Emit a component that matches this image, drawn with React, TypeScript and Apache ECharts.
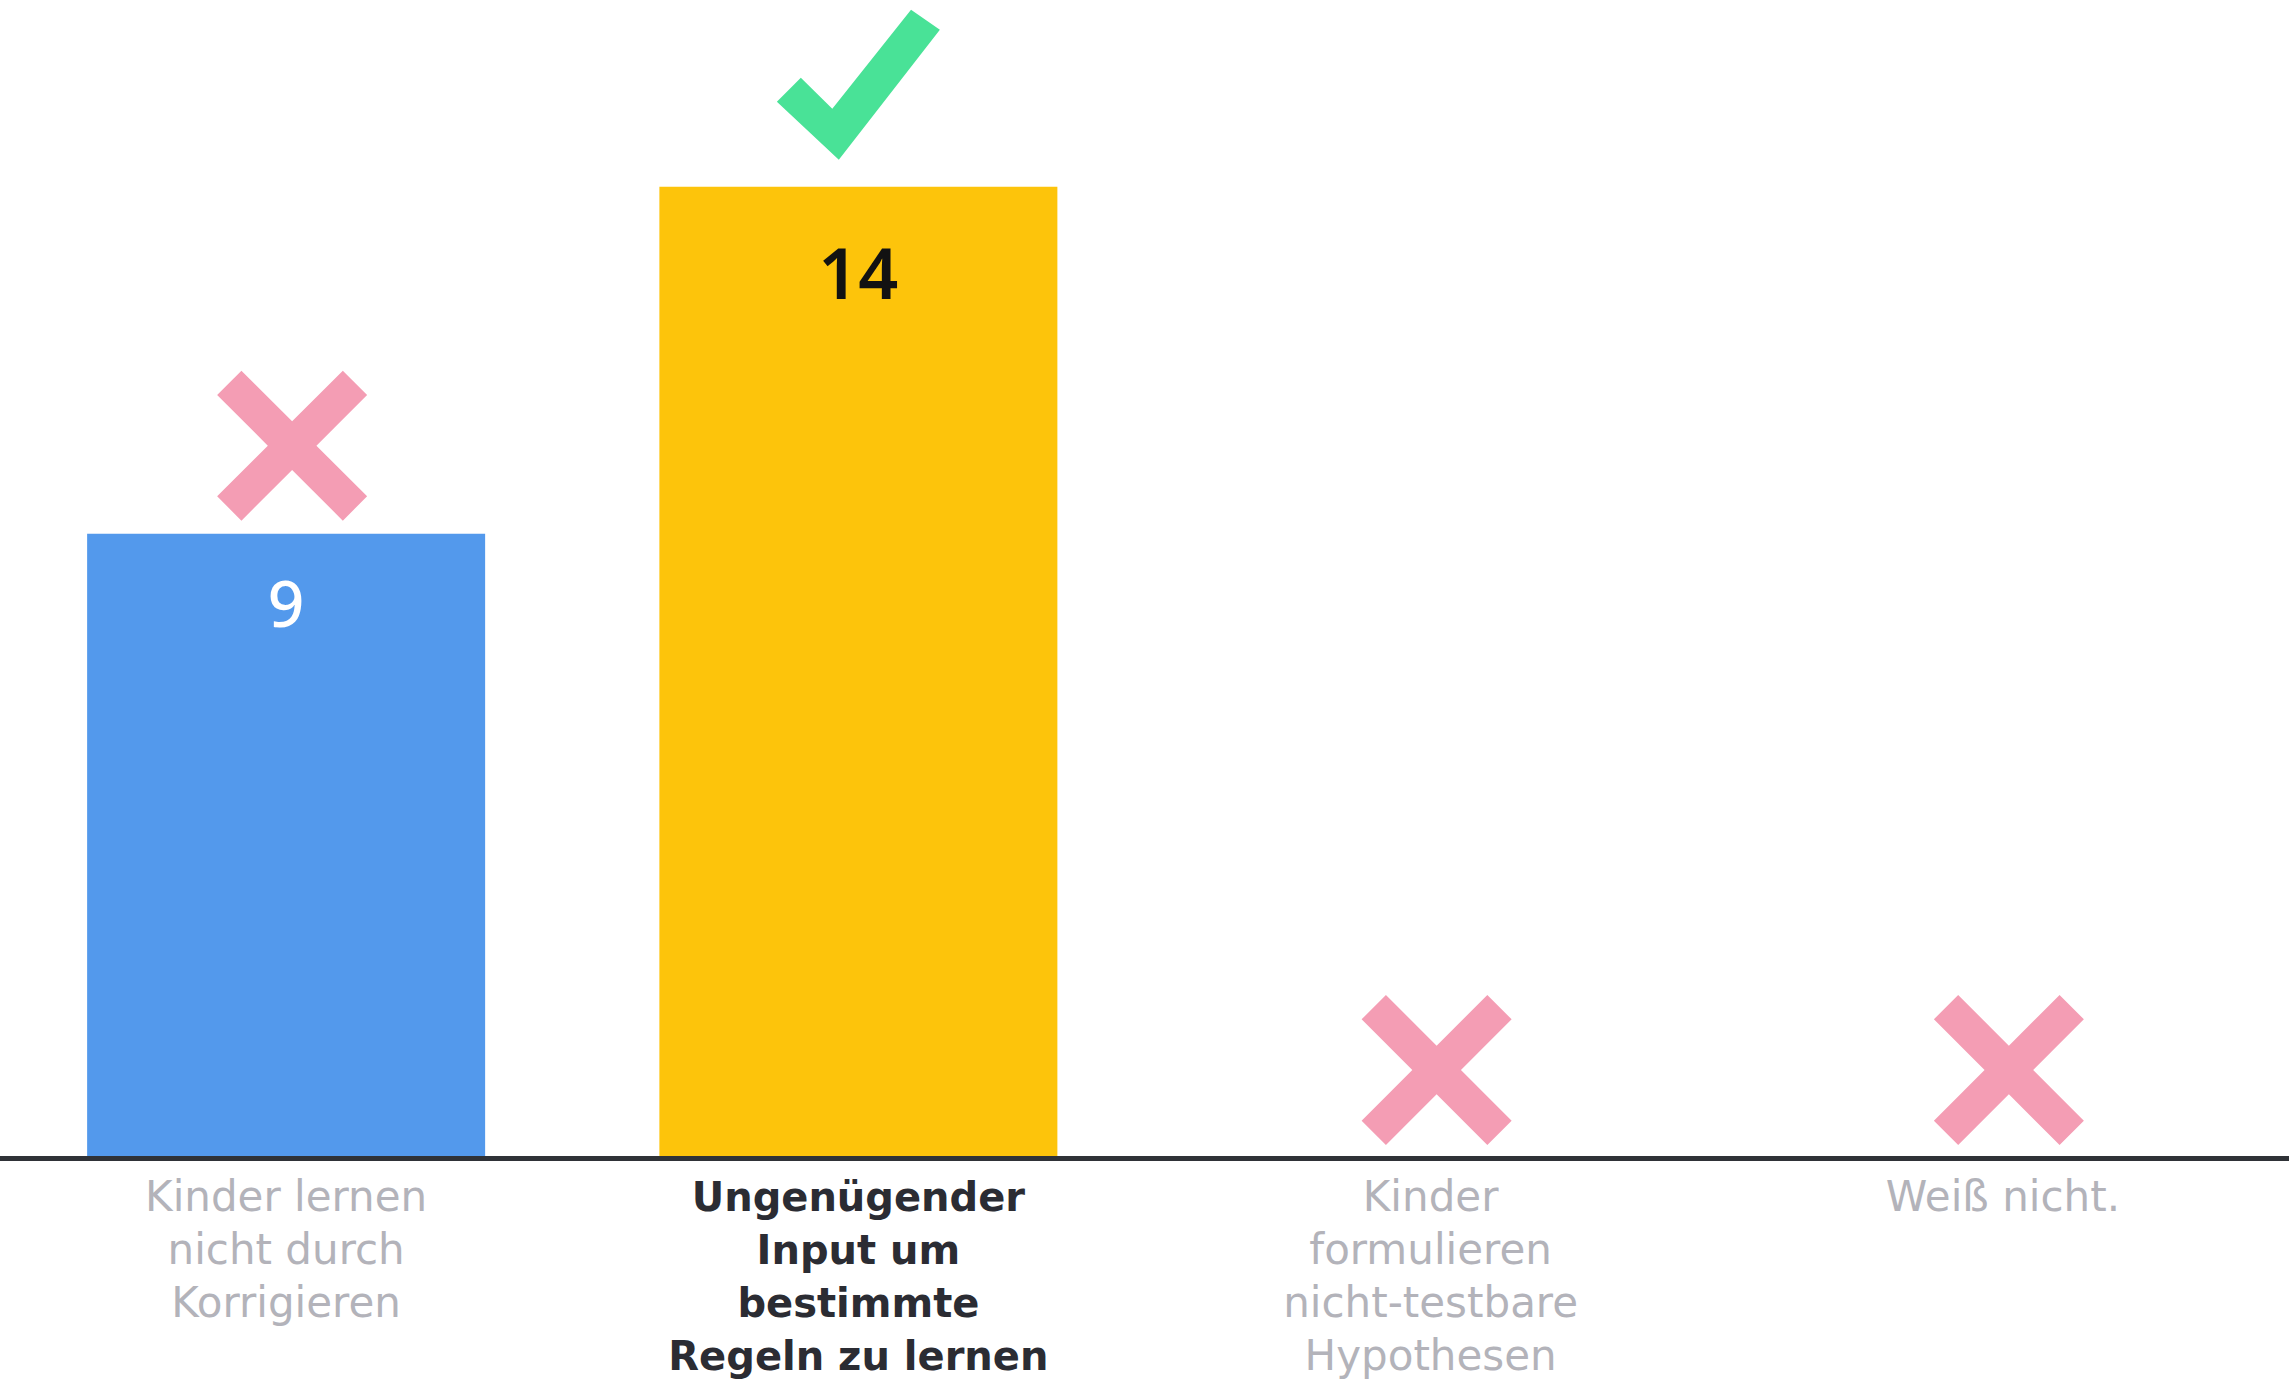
import React, { useEffect, useRef } from "react";
import * as echarts from "echarts";

const categories = [
  "Kinder lernen\nnicht durch\nKorrigieren",
  "Ungenügender\nInput um\nbestimmte\nRegeln zu lernen",
  "Kinder\nformulieren\nnicht-testbare\nHypothesen",
  "Weiß nicht.",
];
const answerCounts = [9, 14, 0, 0];
const verdicts = ["wrong", "right", "wrong", "wrong"];
const highlighted = [false, true, false, false];

const barColors = ["#5399ec", "#fdc40b", "#5399ec", "#5399ec"];
const labelColors = ["#ffffff", "#121212", "#ffffff", "#ffffff"];

const CROSS_PATH =
  "path://M16.2,0 L50,33.8 L83.8,0 L100,16.2 L66.2,50 L100,83.8 L83.8,100 L50,66.2 L16.2,100 L0,83.8 L33.8,50 L0,16.2 Z";
const CHECK_PATH =
  "path://M14.7,45.3 L34,66 L82.3,0 L100,13.3 L38,100 L0,61.3 Z";

export default function App() {
  const ref = useRef<HTMLDivElement>(null);

  useEffect(() => {
    document.body.style.margin = "0";
    if (!ref.current) return;
    const chart = echarts.init(ref.current, null, { renderer: "svg" });

    const xData = categories.map((c, i) => ({
      value: c,
      textStyle: highlighted[i]
        ? { color: "#2b2c33", fontWeight: 700, fontSize: 40 }
        : { color: "#b3b3ba", fontWeight: 400, fontSize: 42 },
    }));

    const barData = answerCounts.map((v, i) => ({
      value: v,
      itemStyle: { color: barColors[i] },
      label: {
        color: labelColors[i],
        fontSize: highlighted[i] ? 70 : 64,
        fontWeight: highlighted[i] ? 600 : 500,
        distance: highlighted[i] ? 50 : 37,
      },
    }));

    const markerData = answerCounts.map((v, i) =>
      verdicts[i] === "right"
        ? {
            value: [i, v],
            symbol: CHECK_PATH,
            symbolSize: [163, 150],
            symbolOffset: [0, -102],
            itemStyle: { color: "#49e297", opacity: 1 },
          }
        : {
            value: [i, v],
            symbol: CROSS_PATH,
            symbolSize: [150, 150],
            symbolOffset: [6, -88],
            itemStyle: { color: "#f49db4", opacity: 1 },
          }
    );

    chart.setOption({
      animation: false,
      backgroundColor: "#ffffff",
      grid: { left: -2, right: 0, top: 48, bottom: 226, containLabel: false },
      xAxis: {
        type: "category",
        data: xData,
        z: 5,
        axisLine: { show: true, lineStyle: { color: "#2f3237", width: 5 } },
        axisTick: { show: false },
        axisLabel: {
          interval: 0,
          margin: 12,
          fontSize: 42,
          lineHeight: 53,
          fontFamily: "DejaVu Sans",
          verticalAlign: "top",
        },
      },
      yAxis: {
        type: "value",
        min: 0,
        max: 16,
        show: false,
        splitLine: { show: false },
      },
      series: [
        {
          type: "bar",
          data: barData,
          barWidth: 398,
          label: {
            show: true,
            position: "insideTop",
            fontFamily: "Noto Sans",
            formatter: (p: any) => (p.value > 0 ? String(p.value) : ""),
          },
        },
        {
          type: "scatter",
          data: markerData,
          z: 4,
          silent: true,
          itemStyle: { opacity: 1 },
        },
      ],
    });

    return () => chart.dispose();
  }, []);

  return <div ref={ref} style={{ width: 2289, height: 1384 }} />;
}
